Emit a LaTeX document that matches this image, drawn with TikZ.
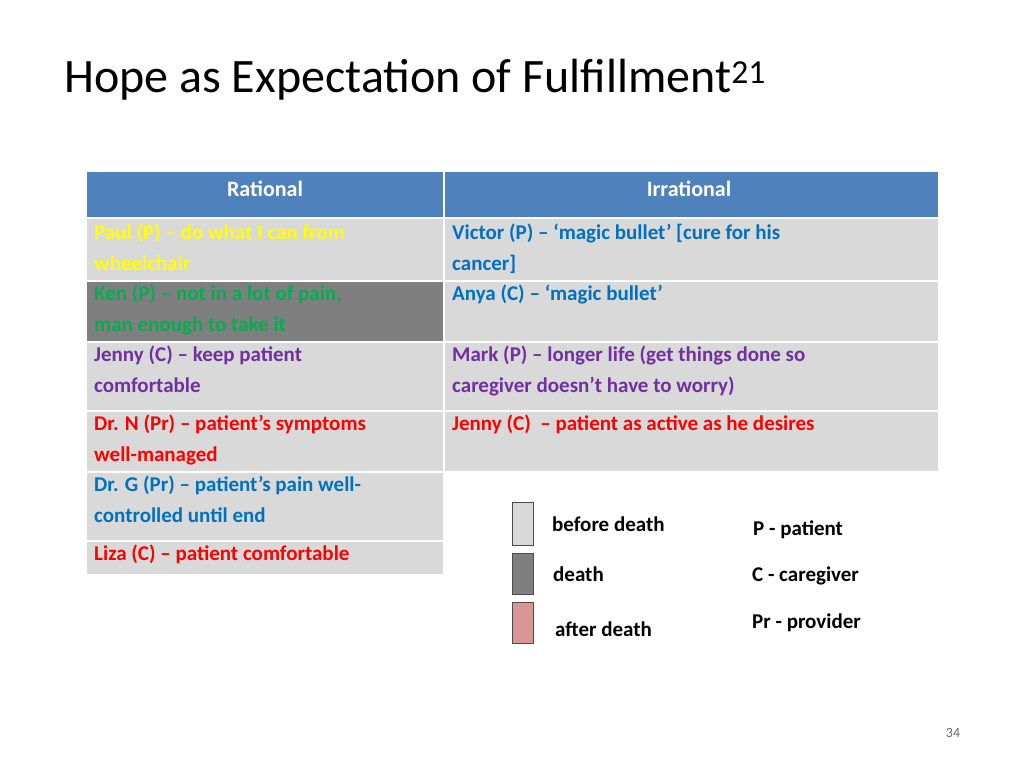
\documentclass[tikz,border=0pt]{standalone}
\usepackage{fontspec}
\setmainfont{Carlito}
\begin{document}
\begin{tikzpicture}[x=1pt,y=-1pt,
 cell/.style={draw=white,line width=1.2pt},
 txt/.style={anchor=north west,align=left,font=\bfseries\fontsize{21}{30.5}\selectfont,inner sep=0pt},
 hdr/.style={font=\bfseries\fontsize{22}{26}\selectfont,text=white},
 leg/.style={anchor=west,font=\bfseries\fontsize{21}{24}\selectfont,inner sep=0pt}]
\definecolor{hb}{HTML}{4F81BD}\definecolor{lg}{HTML}{D9D9D9}\definecolor{dg}{HTML}{7F7F7F}
\definecolor{pk}{HTML}{D99694}\definecolor{gr}{HTML}{00B050}\definecolor{pu}{HTML}{7030A0}
\definecolor{bl}{HTML}{0070C0}\definecolor{yl}{HTML}{FFFF00}
\useasboundingbox (0,0) rectangle (1024,768);
\node[anchor=west,inner sep=0pt,font=\fontsize{48}{52}\selectfont] (title) at (64,80) {Hope as Expectation of Fulfillment\textsuperscript{21}};
\fill[hb,cell] (86,171) rectangle (444,218); \fill[hb,cell] (444,171) rectangle (939,218);
\node[hdr] (h1) at (265,189) {Rational}; \node[hdr] (h2) at (689,189) {Irrational};
\fill[lg,cell] (86,218) rectangle (444,281); \fill[lg,cell] (444,218) rectangle (939,281);
\fill[dg,cell] (86,281) rectangle (444,342); \fill[lg,cell] (444,281) rectangle (939,342);
\fill[lg,cell] (86,342) rectangle (444,411); \fill[lg,cell] (444,342) rectangle (939,411);
\fill[lg,cell] (86,411) rectangle (444,472); \fill[lg,cell] (444,411) rectangle (939,472);
\fill[lg,cell] (86,472) rectangle (444,541);
\fill[lg,cell] (86,541) rectangle (444,575);
\node[txt,text=yl] (a1) at (94,224) {Paul (P) -- do what I can from\\wheelchair};
\node[txt,text=gr] (a2) at (94,285) {Ken (P) -- not in a lot of pain,\\man enough to take it};
\node[txt,text=pu] (a3) at (94,346) {Jenny (C) -- keep patient\\comfortable};
\node[txt,text=red] (a4) at (94,415) {Dr. N (Pr) -- patient’s symptoms\\well-managed};
\node[txt,text=bl] (a5) at (94,476) {Dr. G (Pr) -- patient’s pain well-\\controlled until end};
\node[txt,text=red] (a6) at (94,545) {Liza (C) -- patient comfortable};
\node[txt,text=bl] (b1) at (452,224) {Victor (P) -- ‘magic bullet’ [cure for his\\cancer]};
\node[txt,text=bl] (b2) at (452,285) {Anya (C) -- ‘magic bullet’};
\node[txt,text=pu] (b3) at (452,346) {Mark (P) -- longer life (get things done so\\caregiver doesn’t have to worry)};
\node[txt,text=red] (b4) at (452,415) {Jenny (C)~ -- patient as active as he desires};
\draw[fill=lg,draw=black!70] (512,502) rectangle (533,545);
\draw[fill=dg,draw=black!70] (512,553) rectangle (533,594);
\draw[fill=pk,draw=black!70] (512,602) rectangle (533,643);
\node[leg] (l1) at (552,524) {before death};
\node[leg] (l2) at (553,574) {death};
\node[leg] (l3) at (555,629) {after death};
\node[leg] (k1) at (753,530) {P - patient};
\node[leg] (k2) at (752,576) {C - caregiver};
\node[leg] (k3) at (752,623) {Pr - provider};
\node[font=\fontsize{14}{16}\selectfont,text=black!60] (pg) at (953,733) {34};
\end{tikzpicture}
\end{document}
